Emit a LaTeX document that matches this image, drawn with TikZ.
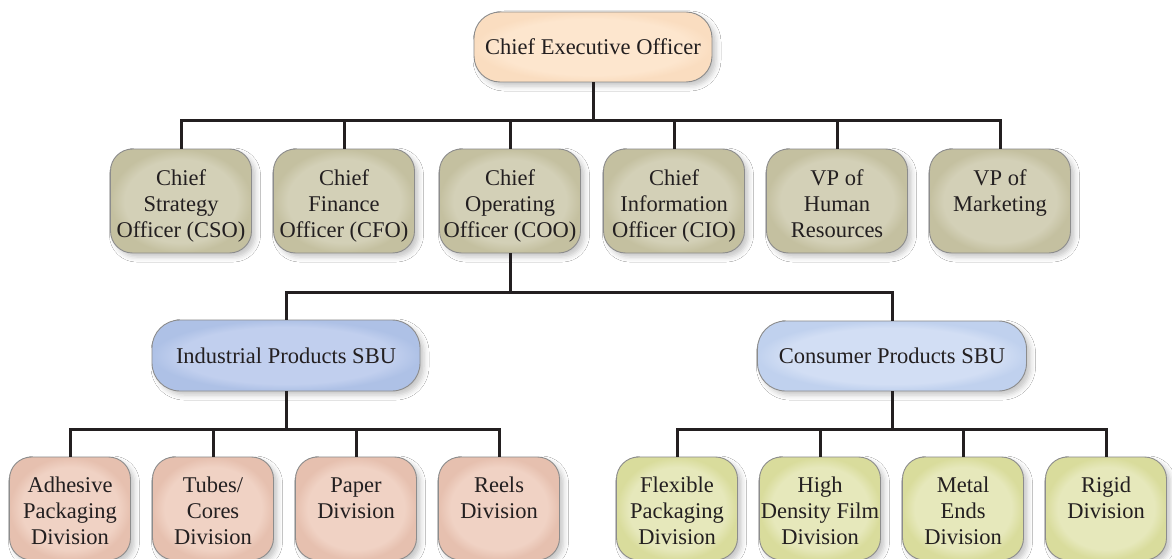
\documentclass[tikz,border=0pt]{standalone}
\usepackage{fontspec}
\setmainfont{Liberation Serif}
\usetikzlibrary{shadows.blur}
\definecolor{txt}{HTML}{231F20}
\definecolor{edge}{HTML}{8C8C8C}
\definecolor{ceoIn}{HTML}{FDE6CE}
\definecolor{ceoOut}{HTML}{FADDC0}
\definecolor{khIn}{HTML}{D3D0B7}
\definecolor{khOut}{HTML}{C4C0A0}
\definecolor{indIn}{HTML}{C1CFEE}
\definecolor{indOut}{HTML}{AEC1E6}
\definecolor{conIn}{HTML}{D2DEF4}
\definecolor{conOut}{HTML}{C0D1EE}
\definecolor{pkIn}{HTML}{F0D2C4}
\definecolor{pkOut}{HTML}{E6C0AF}
\definecolor{ygIn}{HTML}{E6E8BB}
\definecolor{ygOut}{HTML}{D9DC9C}
\pgfdeclareradialshading{ceoSh}{\pgfpointorigin}{color(0bp)=(ceoIn); color(20bp)=(ceoIn); color(25bp)=(ceoOut); color(50bp)=(ceoOut)}
\pgfdeclareradialshading{khSh}{\pgfpointorigin}{color(0bp)=(khIn); color(20bp)=(khIn); color(25bp)=(khOut); color(50bp)=(khOut)}
\pgfdeclareradialshading{indSh}{\pgfpointorigin}{color(0bp)=(indIn); color(20bp)=(indIn); color(25bp)=(indOut); color(50bp)=(indOut)}
\pgfdeclareradialshading{conSh}{\pgfpointorigin}{color(0bp)=(conIn); color(20bp)=(conIn); color(25bp)=(conOut); color(50bp)=(conOut)}
\pgfdeclareradialshading{pkSh}{\pgfpointorigin}{color(0bp)=(pkIn); color(20bp)=(pkIn); color(25bp)=(pkOut); color(50bp)=(pkOut)}
\pgfdeclareradialshading{ygSh}{\pgfpointorigin}{color(0bp)=(ygIn); color(20bp)=(ygIn); color(25bp)=(ygOut); color(50bp)=(ygOut)}
\newcommand{\threel}[3]{\rule{0pt}{28pt}#1\\#2\\#3\rule[-7.8pt]{0pt}{7.8pt}}
\begin{document}
\begin{tikzpicture}[x=1pt,y=-1pt,
  basebox/.style={draw=edge, line width=0.9pt, align=center, text=txt, inner sep=0pt,
    font=\fontsize{22.5}{26}\selectfont,
    blur shadow={shadow xshift=4pt, shadow yshift=-4pt, shadow blur radius=5pt, shadow opacity=22}},
  ceobox/.style={basebox, shade, shading=ceoSh, rounded corners=26pt, minimum width=238pt, minimum height=70pt},
  offbox/.style={basebox, shade, shading=khSh, rounded corners=22pt, minimum width=141pt, minimum height=104pt},
  indbox/.style={basebox, shade, shading=indSh, rounded corners=28pt, minimum width=268pt, minimum height=71pt},
  conbox/.style={basebox, shade, shading=conSh, rounded corners=28pt, minimum width=269pt, minimum height=70pt},
  pkbox/.style={basebox, shade, shading=pkSh, rounded corners=22pt, minimum width=121pt, minimum height=103pt},
  ygbox/.style={basebox, shade, shading=ygSh, rounded corners=22pt, minimum width=121pt, minimum height=103pt},
  conn/.style={draw=txt, line width=3pt}
]
\useasboundingbox[fill=white] (0,0) rectangle (1172,559);

\node[ceobox] (ceo) at (593,47) {Chief Executive Officer};

\node[offbox] (cso) at (181,201) {\threel{Chief}{Strategy}{Officer (CSO)}};
\node[offbox] (cfo) at (344,201) {\threel{Chief}{Finance}{Officer (CFO)}};
\node[offbox] (coo) at (510,201) {\threel{Chief}{Operating}{Officer (COO)}};
\node[offbox] (cio) at (674,201) {\threel{Chief}{Information}{Officer (CIO)}};
\node[offbox] (hr)  at (837,201) {\threel{VP of}{Human}{Resources}};
\node[offbox] (mkt) at (1000,201) {\threel{VP of}{Marketing}{}};

\node[indbox] (ind) at (286,355.5) {Industrial Products SBU};
\node[conbox] (con) at (892,356) {Consumer Products SBU};

\node[pkbox] (adh) at (70,508.5) {\threel{Adhesive}{Packaging}{Division}};
\node[pkbox] (tub) at (213,508.5) {\threel{Tubes/}{Cores}{Division}};
\node[pkbox] (pap) at (356,508.5) {\threel{Paper}{Division}{}};
\node[pkbox] (ree) at (499,508.5) {\threel{Reels}{Division}{}};

\node[ygbox] (fle) at (677,508.5) {\threel{Flexible}{Packaging}{Division}};
\node[ygbox] (hdf) at (820,508.5) {\threel{High}{Density Film}{Division}};
\node[ygbox] (met) at (963,508.5) {\threel{Metal}{Ends}{Division}};
\node[ygbox] (rig) at (1106,508.5) {\threel{Rigid}{Division}{}};

\coordinate (b1) at (ceo.south |- 0,121);
\coordinate (b2) at (coo.south |- 0,292);
\coordinate (b3) at (ind.south |- 0,429);
\coordinate (b4) at (con.south |- 0,429);

\draw[conn] (ceo.south) -- (b1);
\foreach \n in {cso,cfo,coo,cio,hr,mkt} \draw[conn] (b1) -| (\n.north);
\draw[conn] (coo.south) -- (b2);
\foreach \n in {ind,con} \draw[conn] (b2) -| (\n.north);
\draw[conn] (ind.south) -- (b3);
\foreach \n in {adh,tub,pap,ree} \draw[conn] (b3) -| (\n.north);
\draw[conn] (con.south) -- (b4);
\foreach \n in {fle,hdf,met,rig} \draw[conn] (b4) -| (\n.north);
\end{tikzpicture}
\end{document}
